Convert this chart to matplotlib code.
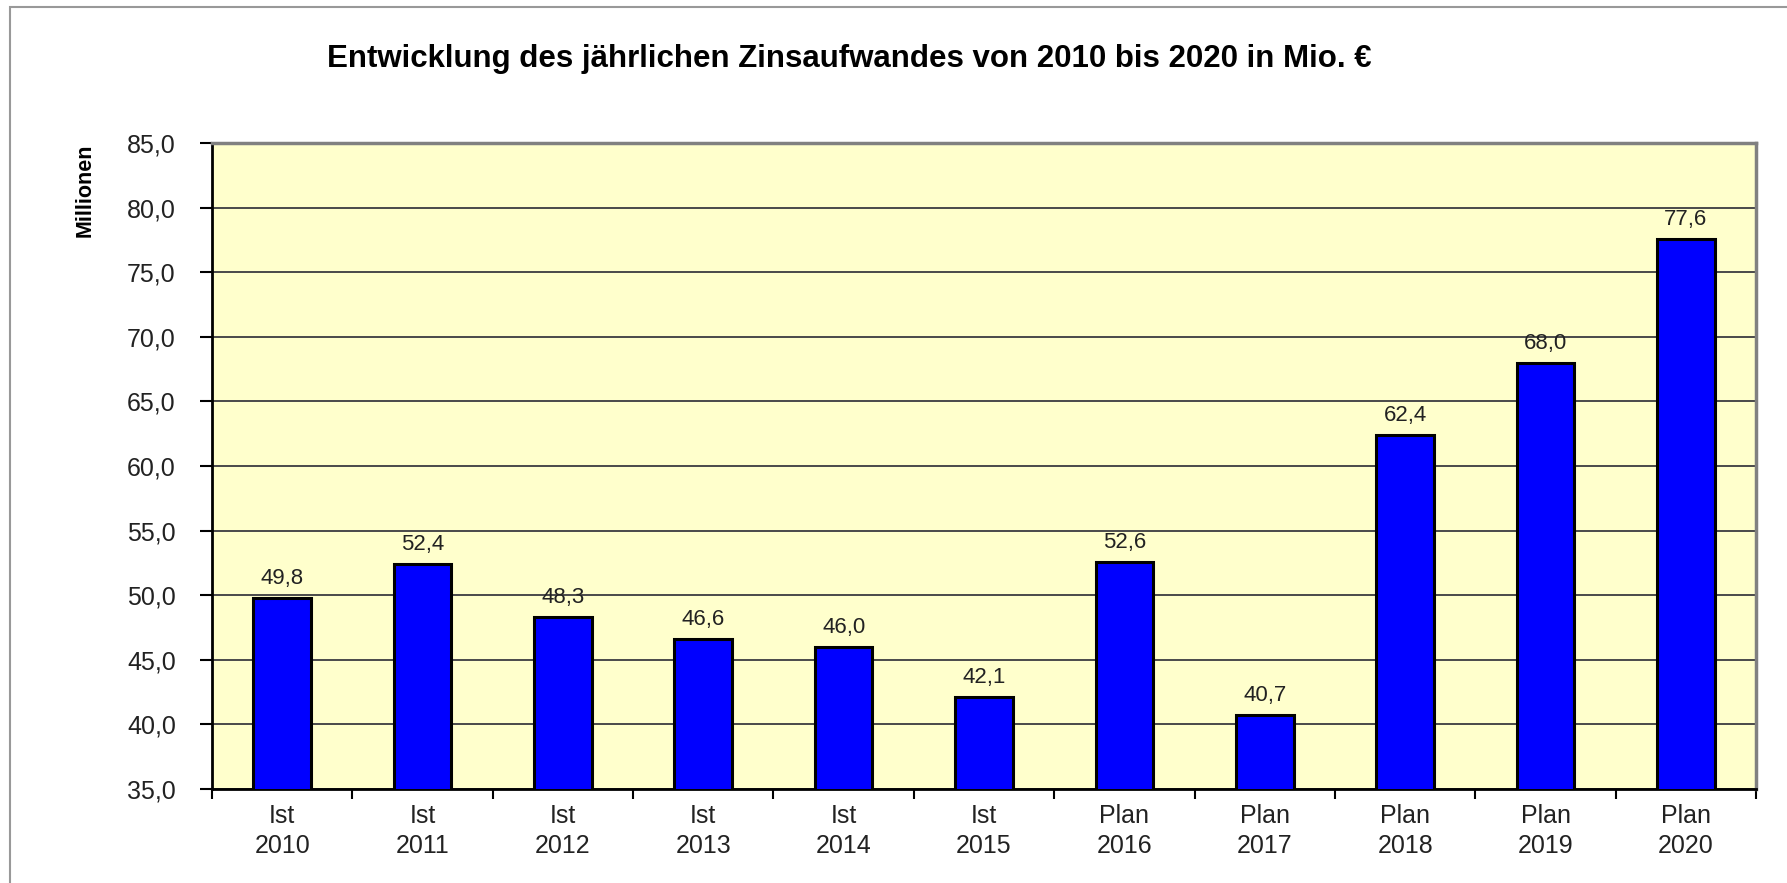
import matplotlib.pyplot as plt
from matplotlib.patches import Rectangle
from matplotlib.ticker import FixedLocator, FuncFormatter

# values in million euro
status = ["Ist", "Ist", "Ist", "Ist", "Ist", "Ist", "Plan", "Plan", "Plan", "Plan", "Plan"]
years = [2010, 2011, 2012, 2013, 2014, 2015, 2016, 2017, 2018, 2019, 2020]
interest = [49.8, 52.4, 48.3, 46.6, 46.0, 42.1, 52.6, 40.7, 62.4, 68.0, 77.6]

title = "Entwicklung des jährlichen Zinsaufwandes von 2010 bis 2020 in Mio. €"
y_label = "Millionen"

plt.rcParams["font.family"] = ["Liberation Sans", "DejaVu Sans"]


def de_num(v, _=None):
    return f"{v:.1f}".replace(".", ",")


fig = plt.figure(figsize=(17.87, 8.83), dpi=100)
ax = fig.add_axes([0.1186, 0.1065, 0.9827 - 0.1186, 0.838 - 0.1065])

x = list(range(len(years)))
ax.set_facecolor("#FFFFCC")
ax.bar(x, interest, width=0.41, color="#0000FF", edgecolor="black",
       linewidth=2.2, zorder=3)

for xi, v in zip(x, interest):
    ax.annotate(de_num(v), (xi, v), xytext=(0, 10),
                textcoords="offset points", ha="center", va="baseline",
                fontsize=16, color="#222222", zorder=4)

ax.set_ylim(35, 85)
ax.set_xlim(-0.5, len(years) - 0.5)
ax.set_yticks([35 + 5 * i for i in range(11)])
ax.yaxis.set_major_formatter(FuncFormatter(de_num))
ax.yaxis.grid(True, color="#4a4a4a", linewidth=1.4, zorder=1)
ax.set_axisbelow(True)

ax.set_xticks(x)
ax.set_xticklabels([f"{s}\n{y}" for s, y in zip(status, years)], linespacing=1.3)
ax.xaxis.set_minor_locator(FixedLocator([i - 0.5 for i in range(len(years) + 1)]))
ax.tick_params(axis="x", which="major", length=0, pad=11, labelsize=18, labelcolor="#222222")
ax.tick_params(axis="x", which="minor", length=7, width=1.5, color="black", direction="out")
ax.tick_params(axis="y", length=9, width=1.5, direction="out", pad=17,
               labelsize=18, labelcolor="#222222")

for side in ("left", "bottom"):
    ax.spines[side].set_color("black")
    ax.spines[side].set_linewidth(2)
for side in ("top", "right"):
    ax.spines[side].set_color("#808080")
    ax.spines[side].set_linewidth(2.5)

fig.text(849 / 1787, 1 - 67 / 883, title, ha="center", va="baseline",
         fontsize=22.5, fontweight="bold", color="black")
fig.text(85 / 1787, 1 - 190 / 883, y_label, rotation=90, ha="center", va="center",
         fontsize=15.5, fontweight="bold", family=["Liberation Sans Narrow", "Liberation Sans"])

# outer chart frame, open at right and bottom like the source
fig.patches.append(Rectangle((10 / 1787, -0.1), 1.2, 1.1 - 7 / 883,
                             transform=fig.transFigure, fill=False,
                             edgecolor="#999999", linewidth=1.5))

fig.savefig("out.png", dpi=100)
